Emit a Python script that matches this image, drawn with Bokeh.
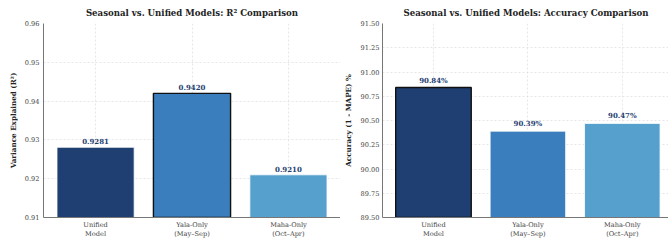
from bokeh.plotting import figure
from bokeh.layouts import row
from bokeh.models import (Range1d, FixedTicker, NumeralTickFormatter, ColumnDataSource,
                          LinearAxis)
from bokeh.embed import file_html
from bokeh.resources import INLINE

categories = ["Unified\nModel", "Yala-Only\n(May–Sep)", "Maha-Only\n(Oct–Apr)"]
r2_values = [0.9281, 0.9420, 0.9210]
acc_values = [90.84, 90.39, 90.47]
bar_colors = ["#1f3f72", "#3a7ebd", "#56a0cd"]
r2_ticks = [0.91, 0.92, 0.93, 0.94, 0.95, 0.96]
acc_ticks = [89.50, 89.75, 90.00, 90.25, 90.50, 90.75, 91.00, 91.25, 91.50]

FONT = "DejaVu Serif"


def style_axis(ax):
    ax.major_label_text_font = FONT
    ax.major_label_text_font_size = "6.6px"
    ax.major_label_text_color = "#444444"
    ax.major_tick_line_color = None
    ax.minor_tick_line_color = None
    ax.major_tick_out = 0
    ax.major_tick_in = 0


def make_panel(values, ticks, title, ylabel, fmt, frame_w, left_margin,
               x_end, label_standoff, tick_standoff):
    idx = list(range(len(values)))
    best = max(idx, key=lambda i: values[i])
    edge = ["#111111" if i == best else "#ffffff" for i in idx]
    ew = [1.4 if i == best else 0.8 for i in idx]
    src = ColumnDataSource(dict(
        x=idx, top=values, color=bar_colors, edge=edge, ew=ew,
        label=[fmt(v) for v in values],
    ))
    p = figure(output_backend="svg", toolbar_location=None,
               frame_width=frame_w, frame_height=194,
               min_border_left=0, min_border_right=0,
               min_border_top=0, min_border_bottom=0,
               x_range=Range1d(-0.54, x_end), y_range=Range1d(ticks[0], ticks[-1]),
               title=title, margin=(0, 0, 0, left_margin))
    p.title.text_font = FONT
    p.title.text_font_size = "8.6px"
    p.title.text_font_style = "bold"
    p.title.text_color = "#222222"
    p.title.align = "center"
    p.title.standoff = 11
    p.outline_line_color = None
    p.background_fill_color = "white"
    p.border_fill_color = "white"

    p.vbar(x="x", top="top", bottom=ticks[0], width=0.8, source=src,
           fill_color="color", line_color="edge", line_width="ew")
    p.text(x="x", y="top", text="label", source=src, y_offset=-3,
           text_align="center", text_baseline="bottom",
           text_font={"value": FONT}, text_font_size={"value": "7px"},
           text_font_style="bold", text_color="#1f3f72")

    lines = [c.split("\n") for c in categories]
    p.xaxis.ticker = FixedTicker(ticks=idx)
    p.xaxis.major_label_overrides = {i: l[0] for i, l in zip(idx, lines)}
    p.xaxis.major_label_standoff = 3
    p.xaxis.axis_line_color = "#777777"
    p.xaxis.axis_line_width = 1
    style_axis(p.xaxis[0])

    ax2 = LinearAxis(ticker=FixedTicker(ticks=idx),
                     major_label_overrides={i: l[1] for i, l in zip(idx, lines)})
    style_axis(ax2)
    ax2.axis_line_color = None
    ax2.major_label_standoff = -2
    p.add_layout(ax2, "below")

    p.yaxis.ticker = FixedTicker(ticks=ticks)
    p.yaxis.formatter = NumeralTickFormatter(format="0.00")
    style_axis(p.yaxis[0])
    p.yaxis.axis_line_color = "#777777"
    p.yaxis.axis_line_width = 1
    p.yaxis.major_label_standoff = tick_standoff
    p.yaxis.axis_label = ylabel
    p.yaxis.axis_label_text_font = FONT
    p.yaxis.axis_label_text_font_size = "7.2px"
    p.yaxis.axis_label_text_font_style = "bold"
    p.yaxis.axis_label_text_color = "#222222"
    p.yaxis.axis_label_standoff = label_standoff

    p.grid.grid_line_color = "#dcdcdc"
    p.grid.grid_line_dash = "2 2"
    p.grid.grid_line_alpha = 0.7
    p.xgrid.ticker = FixedTicker(ticks=idx)
    p.ygrid.ticker = FixedTicker(ticks=ticks)
    return p


p1 = make_panel(r2_values, r2_ticks, "Seasonal vs. Unified Models: R² Comparison",
                "Variance Explained (R²)", lambda v: f"{v:.4f}",
                297, 5, 2.54, 4, 4)
p2 = make_panel(acc_values, acc_ticks, "Seasonal vs. Unified Models: Accuracy Comparison",
                "Accuracy (1 - MAPE) %", lambda v: f"{v:.2f}%",
                287, 0, 2.50, 5, 3)

layout = row(p1, p2)
open("out.html", "w").write(file_html(layout, INLINE))
